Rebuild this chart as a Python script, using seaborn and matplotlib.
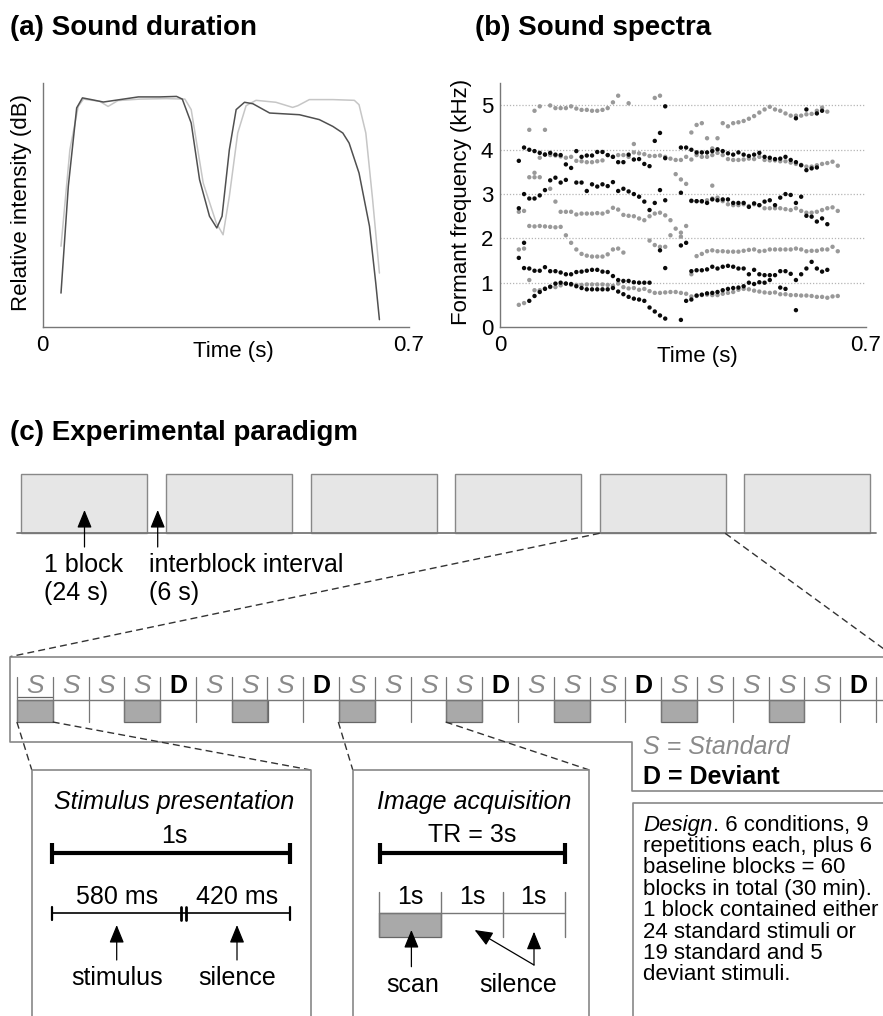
import numpy as np
import pandas as pd
import matplotlib.pyplot as plt
from matplotlib.patches import Rectangle
import seaborn as sns

sns.set_theme(style='white')
plt.rcParams['font.family'] = ['Liberation Sans', 'DejaVu Sans']
plt.rcParams['text.color'] = 'black'
plt.rcParams['axes.labelcolor'] = 'black'
plt.rcParams['xtick.color'] = 'black'
plt.rcParams['ytick.color'] = 'black'

N = np.nan

# (a) intensity envelopes of the two sounds, relative units
dark_time = [0.035, 0.049, 0.065, 0.076, 0.093, 0.116, 0.148, 0.183, 0.224, 0.256,
             0.267, 0.284, 0.300, 0.319, 0.333, 0.343, 0.357, 0.370, 0.386, 0.402,
             0.434, 0.491, 0.529, 0.555, 0.574, 0.586, 0.605, 0.625, 0.637, 0.644]
dark_level = [0.139, 0.577, 0.898, 0.939, 0.932, 0.922, 0.932, 0.943, 0.943, 0.945,
              0.934, 0.836, 0.604, 0.454, 0.406, 0.454, 0.727, 0.891, 0.921, 0.915,
              0.877, 0.870, 0.850, 0.822, 0.795, 0.754, 0.631, 0.413, 0.180, 0.030]
light_time = [0.035, 0.052, 0.068, 0.078, 0.109, 0.125, 0.144, 0.186, 0.237, 0.272,
              0.284, 0.307, 0.332, 0.345, 0.357, 0.373, 0.389, 0.408, 0.446, 0.478,
              0.488, 0.510, 0.555, 0.596, 0.605, 0.618, 0.631, 0.644]
light_level = [0.331, 0.727, 0.904, 0.934, 0.925, 0.904, 0.928, 0.934, 0.936, 0.934,
               0.891, 0.590, 0.426, 0.378, 0.536, 0.795, 0.907, 0.929, 0.921, 0.900,
               0.907, 0.932, 0.932, 0.929, 0.911, 0.795, 0.522, 0.221]

# (b) formant tracks, one value per 10 ms analysis frame (kHz)
frame_ms = [36, 46, 56, 66, 76, 86, 96, 106, 116, 126,
            136, 146, 156, 166, 176, 186, 196, 206, 216, 226,
            236, 246, 256, 266, 276, 286, 296, 306, 316, 326,
            336, 346, 356, 366, 376, 386, 396, 406, 416, 426,
            436, 446, 456, 466, 476, 486, 496, 506, 516, 526,
            536, 546, 556, 566, 576, 586, 596, 606, 616, 626,
            636, 646]

black_f1 = [N, N, 0.59, 0.70, 0.79, 0.86, 0.91, 0.98, 1.00, 0.98,
            0.97, 0.92, 0.88, 0.85, 0.85, 0.85, 0.85, 0.85, 0.88, 0.80,
            0.74, 0.68, 0.64, 0.62, 0.59, 0.44, 0.35, 0.26, 0.19, N,
            N, 0.16, 0.59, 0.62, 0.71, 0.73, 0.76, 0.77, 0.79, 0.83,
            0.86, 0.88, 0.89, 0.92, 1.00, 0.97, 1.01, 1.00, 1.06, N,
            0.89, 0.86, N, 0.38, N, N, N, N, N, N,
            N, N]
black_f2 = [1.56, 1.33, 1.32, 1.27, 1.27, 1.35, 1.26, 1.26, 1.23, 1.19,
            1.19, 1.24, 1.25, 1.27, 1.29, 1.29, 1.25, 1.24, 1.15, 1.06,
            1.04, 1.04, 1.01, 1.00, 1.00, 1.00, N, 1.73, 1.33, N,
            N, 1.84, 1.90, 1.26, 1.28, 1.28, 1.30, 1.36, 1.32, 1.36,
            1.38, 1.36, 1.32, 1.32, 1.19, 1.29, 1.19, 1.17, 1.17, 1.17,
            1.26, 1.26, 1.20, 1.06, 1.19, 1.32, 1.47, 1.32, 1.25, 1.29,
            N, N]
black_f3 = [2.68, 3.00, 2.90, 2.90, 2.97, 3.09, 3.31, 3.37, 3.26, 3.32,
            N, 3.26, 3.26, 3.07, 3.22, 3.17, 3.22, 3.18, 3.27, 3.07,
            3.12, 3.06, 3.00, 2.94, 2.83, 2.64, 2.80, 3.09, 2.86, N,
            N, 3.03, N, 2.85, 2.84, 2.84, 2.80, 2.88, 2.86, 2.88,
            2.88, 2.80, 2.80, 2.80, 2.71, 2.79, 2.75, 2.83, 2.86, 2.75,
            2.92, 3.00, 2.98, 2.80, 2.94, 2.51, 2.49, 2.38, 2.45, 2.32,
            N, N]
black_f4 = [3.75, 4.05, 4.00, 3.97, 3.93, 3.89, 3.93, 3.89, 3.88, 3.67,
            3.59, 3.97, 3.84, 3.87, 3.87, 3.95, 3.95, 3.88, 3.84, 3.72,
            3.72, 3.89, 3.78, 3.79, 3.68, 3.63, 4.20, 4.38, 3.81, N,
            N, 4.05, 4.05, 4.00, 3.94, 3.94, 3.94, 3.97, 4.01, 3.97,
            3.92, 3.89, 3.94, 3.89, 3.86, 3.89, 3.93, 3.84, 3.82, 3.79,
            3.80, 3.84, 3.77, 3.72, 3.65, 3.54, 3.58, 3.60, N, N,
            N, N]
black_hi = [N, 1.90, N, N, N, N, N, N, N, N,
            N, N, N, N, N, N, N, N, N, N,
            N, N, N, N, N, N, N, N, 4.98, N,
            N, N, N, N, N, N, N, N, N, N,
            N, N, N, N, N, N, N, N, N, N,
            N, N, N, 4.71, N, 4.91, N, 4.82, 4.88, N,
            N, N]

gray_f1 = [0.50, 0.54, N, 0.83, 0.83, 0.87, 0.90, 0.90, 0.94, 0.98,
           0.95, 0.95, 0.95, 0.96, 0.96, 0.96, 0.96, 0.95, 0.93, 0.98,
           0.90, 0.87, 0.88, 0.84, 0.86, 0.81, 0.77, 0.77, 0.78, 0.79,
           0.79, 0.77, 0.75, 0.69, 0.70, 0.72, 0.73, 0.72, 0.72, 0.75,
           0.77, 0.79, 0.84, 0.86, 0.85, 0.82, 0.80, 0.78, 0.77, 0.78,
           0.74, 0.74, 0.72, 0.72, 0.71, 0.71, 0.70, 0.68, 0.68, 0.66,
           0.69, 0.70]
gray_f2 = [1.75, 1.77, 2.28, 2.27, 2.28, 2.27, 2.26, 2.25, 2.26, 2.07,
           1.90, 1.75, 1.65, 1.61, 1.59, 1.59, 1.59, 1.64, 1.75, 1.77,
           1.68, N, N, N, N, 1.95, 1.85, 1.81, 1.81, 2.07,
           N, 2.04, N, 1.19, 1.60, 1.65, 1.71, 1.73, 1.71, 1.71,
           1.70, 1.70, 1.70, 1.72, 1.74, 1.75, 1.71, 1.72, 1.75, 1.75,
           1.75, 1.75, 1.75, 1.77, 1.75, 1.71, 1.72, 1.72, 1.75, 1.75,
           1.81, 1.71]
gray_f3 = [2.60, 2.62, N, N, N, N, 3.12, 2.83, 2.60, 2.60,
           2.60, 2.54, 2.56, 2.56, 2.56, 2.57, 2.56, 2.60, 2.69, 2.65,
           2.53, 2.51, 2.50, 2.45, 2.41, 2.50, 2.56, 2.58, 2.52, 2.41,
           2.22, 2.13, 2.28, 2.84, 2.84, 2.83, 2.86, 2.90, 2.92, 2.84,
           2.77, 2.75, 2.75, 2.77, 2.73, 2.77, 2.75, 2.68, 2.68, 2.68,
           2.68, 2.66, 2.64, 2.68, 2.62, 2.58, 2.58, 2.60, 2.64, 2.68,
           2.70, 2.62]
gray_f4 = [N, N, 3.38, 3.48, 3.82, 3.90, 3.88, 3.87, 3.85, 3.82,
           3.84, 3.75, 3.74, 3.72, 3.72, 3.74, 3.76, 3.88, 3.84, 3.88,
           3.88, 3.84, 3.94, 3.92, 3.90, 3.86, 3.86, 3.87, 3.84, 3.80,
           3.77, 3.77, 3.84, 3.78, 3.88, 3.84, 3.84, 3.88, 3.93, 3.88,
           3.79, 3.77, 3.77, 3.78, 3.80, 3.79, 3.84, 3.77, 3.76, 3.76,
           3.74, 3.74, 3.71, 3.68, 3.66, 3.62, 3.62, 3.65, 3.68, 3.70,
           3.73, 3.64]
gray_f5 = [N, N, 4.45, 4.88, 4.98, 4.45, 5.00, 4.94, 4.94, 4.94,
           4.98, 4.93, 4.90, 4.90, 4.88, 4.88, 4.90, 4.94, 5.07, 5.22,
           N, 5.05, N, N, N, N, 5.17, 5.22, N, N,
           N, N, N, 4.39, 4.56, 4.60, 4.26, 4.03, 4.26, 4.60,
           4.53, 4.60, 4.62, 4.65, 4.70, 4.76, 4.84, 4.91, 4.97, 4.91,
           4.88, 4.82, 4.77, 4.77, 4.77, 4.80, 4.81, 4.88, 4.95, 4.86,
           N, N]
gray_x = [N, N, 1.06, 3.38, 3.38, N, N, N, N, N,
          N, N, N, N, N, N, N, N, N, N,
          N, N, 4.13, N, N, N, N, N, N, N,
          3.45, 3.33, 3.23, N, N, N, N, 3.19, N, N,
          N, N, N, N, N, N, N, N, N, N,
          N, N, N, N, N, N, N, N, N, N,
          N, N]

grid_khz = [1, 2, 3, 4, 5]

# (c) paradigm
n_blocks = 6
cell_labels = list('SSSSDSSSDSSSSDSSSDSSSSSD')
scan_cells = [0, 3, 6, 9, 12, 15, 18, 21]
design_lines = ['. 6 conditions, 9',
                'repetitions each, plus 6',
                'baseline blocks = 60',
                'blocks in total (30 min).',
                '1 block contained either',
                '24 standard stimuli or',
                '19 standard and 5',
                'deviant stimuli.']

# build tables
df_a = pd.concat([
    pd.DataFrame({'time': light_time, 'level': light_level, 'sound': 'light'}),
    pd.DataFrame({'time': dark_time, 'level': dark_level, 'sound': 'dark'}),
])

rows = []
for name, tracks in [('gray', [gray_f1, gray_f2, gray_f3, gray_f4, gray_f5, gray_x]),
                     ('black', [black_f1, black_f2, black_f3, black_f4, black_hi])]:
    for tr in tracks:
        for ms, v in zip(frame_ms, tr):
            if not np.isnan(v):
                rows.append((ms / 1000, v, name))
df_b = pd.DataFrame(rows, columns=['time', 'khz', 'sound'])

W, H = 883, 1016
fig = plt.figure(figsize=(W / 100, H / 100), dpi=100)

# overlay in pixel units for titles and the schematic
axc = fig.add_axes([0, 0, 1, 1])
axc.set_xlim(0, W)
axc.set_ylim(H, 0)
axc.axis('off')

ax_a = fig.add_axes([42.7 / W, 1 - 327 / H, 366 / W, 244 / H])
ax_b = fig.add_axes([500 / W, 1 - 327 / H, 366 / W, 243.7 / H])

AX = '#777777'

# ---- (a)
sns.lineplot(data=df_a, x='time', y='level', hue='sound', hue_order=['light', 'dark'],
             palette={'light': '#c6c6c6', 'dark': '#505050'}, sort=False,
             estimator=None, lw=1.1, legend=False, ax=ax_a)
ax_a.set_xlim(0, 0.7)
ax_a.set_ylim(0, 1)
ax_a.set_yticks([])
ax_a.set_xticks([0, 0.7])
ax_a.set_xticklabels(['0', '0.7'])
ax_a.set_ylabel('Relative intensity (dB)', fontsize=16, va='center')
ax_a.yaxis.set_label_coords(-0.057, 0.51)
ax_a.set_xlabel('Time (s)', fontsize=16)
ax_a.xaxis.set_label_coords(0.52, -0.058)

# ---- (b)
for g in grid_khz:
    ax_b.axhline(g, color='#b5b5b5', lw=0.9, ls=(0, (1, 1.5)), zorder=0)
sns.scatterplot(data=df_b, x='time', y='khz', hue='sound',
                palette={'gray': '#999999', 'black': '#0a0a0a'},
                s=10, linewidth=0, legend=False, ax=ax_b, zorder=3)
ax_b.set_xlim(0, 0.7)
ax_b.set_ylim(0, 5.5)
ax_b.set_yticks([0, 1, 2, 3, 4, 5])
ax_b.set_xticks([0, 0.7])
ax_b.set_xticklabels(['0', '0.7'])
ax_b.set_ylabel('Formant frequency (kHz)', fontsize=16, va='center')
ax_b.yaxis.set_label_coords(-0.105, 0.515)
ax_b.set_xlabel('Time (s)', fontsize=16)
ax_b.xaxis.set_label_coords(0.54, -0.08)

for ax in (ax_a, ax_b):
    sns.despine(ax=ax)
    for sp in ('left', 'bottom'):
        ax.spines[sp].set_color(AX)
        ax.spines[sp].set_linewidth(1.0)
    ax.set_facecolor('none')
    ax.tick_params(axis='x', direction='in', length=3, color=AX, labelsize=16, pad=6)
    ax.tick_params(axis='y', direction='out', length=3, color=AX, labelsize=16, pad=2)

# ---- titles
axc.text(10, 28, '(a) Sound duration', fontsize=20, fontweight='bold', va='center')
axc.text(475, 28, '(b) Sound spectra', fontsize=20, fontweight='bold', va='center')
axc.text(10, 433, '(c) Experimental paradigm', fontsize=20, fontweight='bold', va='center')

FS = 18
EDGE = '#888888'


def arrow(x0, y0, x1, y1):
    axc.annotate('', xy=(x1, y1), xytext=(x0, y0),
                 arrowprops=dict(arrowstyle='-|>,head_length=1.1,head_width=0.45',
                                 mutation_scale=10, color='black', lw=0.9,
                                 shrinkA=0, shrinkB=0))


def dashed(x0, y0, x1, y1):
    axc.plot([x0, x1], [y0, y1], color='#333333', lw=1.0, ls=(0, (5, 3)))


# block row
bx0, bper, bw, btop, bbot = 21.4, 144.6, 126, 474.3, 533.3
for i in range(n_blocks):
    axc.add_patch(Rectangle((bx0 + i * bper, btop), bw, bbot - btop,
                            fc='#e6e6e6', ec=EDGE, lw=1.0))
axc.plot([17, 876], [bbot, bbot], color=AX, lw=1.3)
arrow(84.5, 547, 84.5, 510)
arrow(157.7, 547, 157.7, 510)
axc.text(43.9, 565, '1 block', fontsize=FS, va='center')
axc.text(43.9, 593, '(24 s)', fontsize=FS, va='center')
axc.text(149.2, 565, 'interblock interval', fontsize=FS, va='center')
axc.text(149.2, 593, '(6 s)', fontsize=FS, va='center')

# zoom from block 5
dashed(599.7, bbot, 10, 656.7)
dashed(725.2, bbot, 894.5, 656.7)

# block detail frame
axc.plot([890, 10, 10, 631.7, 631.7, 890], [656.7, 656.7, 741.7, 741.7, 791, 791],
         color=EDGE, lw=1.2)
cx0, cw = 16.9, 35.8
axc.plot([cx0, 890], [699.5, 699.5], color=AX, lw=1.0)
for c in scan_cells:
    axc.add_patch(Rectangle((cx0 + c * cw, 699.5), cw, 22.5, fc='#a9a9a9', ec='#666666', lw=0.9))
axc.plot([cx0, cx0 + cw], [697, 697], color='#666666', lw=0.9)
for i in range(len(cell_labels) + 1):
    axc.plot([cx0 + i * cw] * 2, [677, 722], color=AX, lw=0.9)
for i, lab in enumerate(cell_labels):
    if lab == 'S':
        axc.text(cx0 + (i + 0.5) * cw, 686, 'S', fontsize=19, style='italic',
                 color='#8a8a8a', ha='center', va='center')
    else:
        axc.text(cx0 + (i + 0.5) * cw, 686, 'D', fontsize=18, fontweight='bold',
                 color='black', ha='center', va='center')

axc.text(643.3, 747, 'S = Standard', fontsize=FS, style='italic', color='#8a8a8a', va='center')
axc.text(643.3, 777, 'D = Deviant', fontsize=FS, fontweight='bold', va='center')

# zoom lines to the two detail boxes
dashed(16.9, 722, 31.8, 770)
dashed(52.7, 722, 310.8, 770)
dashed(338.3, 722, 352.8, 770)
dashed(445.7, 722, 589.4, 770)

for xl, xr in [(31.8, 310.8), (352.8, 589.4)]:
    axc.plot([xl, xl, xr, xr], [1025, 770, 770, 1025], color=EDGE, lw=1.2)
axc.plot([633.3, 633.3, 890], [1025, 802.7, 802.7], color=EDGE, lw=1.2)

# stimulus presentation box
axc.text(174, 802, 'Stimulus presentation', fontsize=FS, style='italic', ha='center', va='center')
axc.text(174, 836, '1s', fontsize=FS, ha='center', va='center')
axc.plot([52.4, 289.7], [853.3, 853.3], color='black', lw=3, solid_capstyle='butt')
for x in (52.4, 289.7):
    axc.plot([x, x], [843, 864], color='black', lw=3, solid_capstyle='butt')
axc.plot([52.4, 289.7], [913.3, 913.3], color='black', lw=1.2)
for x in (52.4, 289.7):
    axc.plot([x, x], [906.5, 920], color='black', lw=1.6)
for x in (180.6, 186.4):
    axc.plot([x, x], [906.5, 920], color='black', lw=2.0)
axc.text(116.7, 897, '580 ms', fontsize=FS, ha='center', va='center')
axc.text(237, 897, '420 ms', fontsize=FS, ha='center', va='center')
arrow(116.7, 960, 116.7, 925)
arrow(237, 960, 237, 925)
axc.text(116.7, 978, 'stimulus', fontsize=FS, ha='center', va='center')
axc.text(237, 978, 'silence', fontsize=FS, ha='center', va='center')

# image acquisition box
axc.text(474.6, 802, 'Image acquisition', fontsize=FS, style='italic', ha='center', va='center')
axc.text(472.6, 835, 'TR = 3s', fontsize=FS, ha='center', va='center')
axc.plot([380, 565.3], [853.3, 853.3], color='black', lw=3, solid_capstyle='butt')
for x in (380, 565.3):
    axc.plot([x, x], [843, 864], color='black', lw=3, solid_capstyle='butt')
tr_x = [378.9, 441.3, 502.5, 564.5]
axc.add_patch(Rectangle((tr_x[0], 913.3), tr_x[1] - tr_x[0], 23.4, fc='#a9a9a9', ec='#666666', lw=0.9))
axc.plot([tr_x[0], tr_x[-1]], [913.3, 913.3], color=AX, lw=1.0)
for x in tr_x:
    axc.plot([x, x], [891.7, 936.7], color=AX, lw=1.0)
for i in range(3):
    axc.text((tr_x[i] + tr_x[i + 1]) / 2, 897, '1s', fontsize=FS, ha='center', va='center')
arrow(411.4, 966.7, 411.4, 930)
arrow(534, 965, 534, 931.7)
arrow(534, 965, 474.6, 930)
axc.text(412.6, 985, 'scan', fontsize=FS, ha='center', va='center')
axc.text(518.6, 985, 'silence', fontsize=FS, ha='center', va='center')

# design note
t0 = axc.text(643.3, 825, 'Design', fontsize=16, style='italic', va='center')
fig.canvas.draw()
bb = t0.get_window_extent(renderer=fig.canvas.get_renderer())
for i, line in enumerate(design_lines):
    x = 643.3 + (bb.width if i == 0 else 0)
    axc.text(x, 825 + 21.4 * i, line, fontsize=16, va='center')

fig.savefig('out.png', dpi=100)
